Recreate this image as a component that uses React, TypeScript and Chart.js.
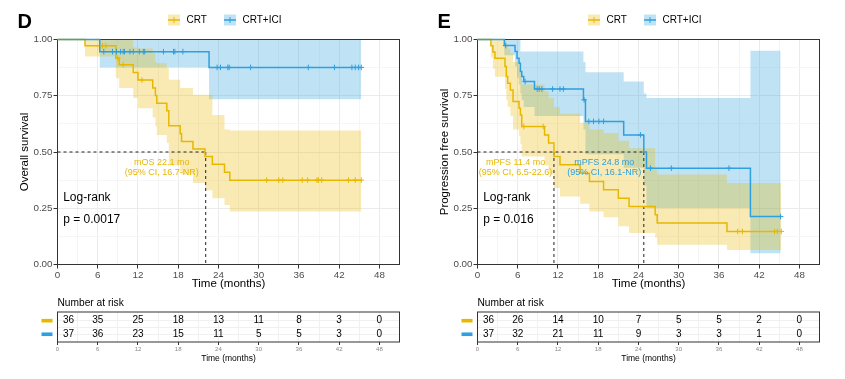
import React, { useEffect, useRef } from 'react';
import { Chart, registerables } from 'chart.js';

Chart.register(...registerables);

const FONT = '"Liberation Sans", Arial, Helvetica, sans-serif';
Chart.defaults.font.family = FONT;

const YELLOW = '#E7B800';
const BLUE = '#2E9FDF';
const YELLOW_FILL = 'rgba(231,184,0,0.3)';
const BLUE_FILL = 'rgba(46,159,223,0.3)';

const groupNames = ['CRT', 'CRT+ICI'];
const xTickLabels = [0, 6, 12, 18, 24, 30, 36, 42, 48];
const yTickLabels = [0, 0.25, 0.5, 0.75, 1];
const riskTimes = [0, 6, 12, 18, 24, 30, 36, 42, 48];

// ---------- Panel D : overall survival ----------
const dCrtTime = [0, 4.1, 8.7, 9.2, 11.3, 12.0, 14.2, 14.6, 14.8, 16.3, 16.6, 18.3, 18.5, 20.2, 22.0, 23.1, 24.9, 25.7, 45.3];
const dCrtSurv = [1, 0.972, 0.917, 0.888, 0.853, 0.82, 0.785, 0.751, 0.717, 0.683, 0.617, 0.581, 0.547, 0.513, 0.48, 0.446, 0.41, 0.375, 0.375];
const dCrtLower = [1, 0.924, 0.828, 0.784, 0.74, 0.695, 0.653, 0.613, 0.576, 0.54, 0.44, 0.415, 0.4, 0.362, 0.33, 0.295, 0.265, 0.236, 0.236];
const dCrtUpper = [1, 1, 1, 1, 0.965, 0.96, 0.94, 0.9, 0.895, 0.873, 0.821, 0.784, 0.784, 0.754, 0.754, 0.665, 0.6, 0.596, 0.596];
const dCrtCensor = [6.7, 7.2, 9.0, 9.8, 12.6, 31.2, 33.0, 33.6, 36.5, 37.3, 38.7, 38.9, 39.4, 43.4, 44.4, 45.3];

const dIciTime = [0, 6.3, 22.6, 45.3];
const dIciSurv = [1, 0.946, 0.876, 0.876];
const dIciLower = [1, 0.876, 0.735, 0.735];
const dIciUpper = [1, 1, 1, 1];
const dIciCensor = [6.9, 8.2, 8.8, 9.4, 9.8, 10.0, 10.8, 11.3, 12.2, 12.8, 13.0, 15.8, 17.3, 17.5, 18.7, 23.8, 24.3, 25.4, 25.6, 28.8, 37.4, 41.3, 43.9, 44.4, 44.9, 45.3];

const dMedians = [22.1];
const dCrtMedianText = ['mOS 22.1 mo', '(95% CI, 16.7-NR)'];
const dPText = 'p = 0.0017';
const dRiskCrt = [36, 35, 25, 18, 13, 11, 8, 3, 0];
const dRiskIci = [37, 36, 23, 15, 11, 5, 5, 3, 0];

// ---------- Panel E : progression free survival ----------
const eCrtTime = [0, 2.0, 2.3, 2.6, 4.1, 4.3, 4.5, 4.9, 5.3, 6.2, 6.4, 6.6, 10.0, 10.6, 11.4, 12.3, 15.3, 16.7, 18.8, 21.0, 22.6, 26.5, 26.8, 37.2, 45.3];
const eCrtSurv = [1, 0.972, 0.944, 0.917, 0.88, 0.836, 0.806, 0.776, 0.724, 0.695, 0.665, 0.613, 0.576, 0.54, 0.48, 0.443, 0.406, 0.369, 0.332, 0.295, 0.258, 0.221, 0.184, 0.147, 0.147];
const eCrtLower = [1, 0.92, 0.87, 0.835, 0.78, 0.73, 0.7, 0.66, 0.6, 0.57, 0.535, 0.48, 0.44, 0.4, 0.34, 0.302, 0.27, 0.236, 0.21, 0.17, 0.14, 0.12, 0.088, 0.065, 0.065];
const eCrtUpper = [1, 1, 1, 1, 1, 0.98, 0.96, 0.94, 0.9, 0.875, 0.85, 0.8, 0.77, 0.74, 0.7, 0.67, 0.63, 0.6, 0.584, 0.55, 0.517, 0.43, 0.4, 0.362, 0.362];
const eCrtCensor = [6.9, 9.8, 38.8, 39.5, 44.3, 44.7, 45.3];

const eIciTime = [0, 4.0, 5.6, 5.9, 6.2, 6.4, 6.6, 6.9, 8.5, 15.8, 16.1, 21.8, 24.8, 25.2, 40.7, 45.2];
const eIciSurv = [1, 0.973, 0.947, 0.917, 0.895, 0.858, 0.836, 0.813, 0.78, 0.732, 0.636, 0.576, 0.5, 0.428, 0.213, 0.213];
const eIciLower = [1, 0.93, 0.88, 0.83, 0.8, 0.76, 0.73, 0.7, 0.66, 0.6, 0.49, 0.43, 0.35, 0.251, 0.05, 0.05];
const eIciUpper = [1, 1, 1, 1, 1, 0.947, 0.947, 0.947, 0.947, 0.9, 0.855, 0.813, 0.76, 0.74, 0.95, 0.95];
const eIciCensor = [4.2, 7.1, 8.9, 9.2, 9.6, 11.2, 12.3, 12.8, 15.9, 16.6, 17.3, 18.1, 18.8, 24.3, 25.8, 28.9, 37.5, 45.2];

const eMedians = [11.4, 24.8];
const eCrtMedianText = ['mPFS 11.4 mo', '(95% CI, 6.5-22.6)'];
const eIciMedianText = ['mPFS 24.8 mo', '(95% CI, 16.1-NR)'];
const ePText = 'p = 0.016';
const eRiskCrt = [36, 26, 14, 10, 7, 5, 5, 2, 0];
const eRiskIci = [37, 32, 21, 11, 9, 3, 3, 1, 0];

// ---------- helpers ----------
type Curve = { time: number[]; surv: number[]; lower: number[]; upper: number[]; censor: number[] };
type Label = { text: string[]; color: string; x: number; y: number[] };
type Panel = {
  letter: string;
  yTitle: string;
  crt: Curve;
  ici: Curve;
  medians: number[];
  labels: Label[];
  pText: string;
  riskCrt: number[];
  riskIci: number[];
};

const panels: Panel[] = [
  {
    letter: 'D',
    yTitle: 'Overall survival',
    crt: { time: dCrtTime, surv: dCrtSurv, lower: dCrtLower, upper: dCrtUpper, censor: dCrtCensor },
    ici: { time: dIciTime, surv: dIciSurv, lower: dIciLower, upper: dIciUpper, censor: dIciCensor },
    medians: dMedians,
    labels: [{ text: dCrtMedianText, color: YELLOW, x: 15.55, y: [0.454, 0.408] }],
    pText: dPText,
    riskCrt: dRiskCrt,
    riskIci: dRiskIci,
  },
  {
    letter: 'E',
    yTitle: 'Progression free survival',
    crt: { time: eCrtTime, surv: eCrtSurv, lower: eCrtLower, upper: eCrtUpper, censor: eCrtCensor },
    ici: { time: eIciTime, surv: eIciSurv, lower: eIciLower, upper: eIciUpper, censor: eIciCensor },
    medians: eMedians,
    labels: [
      { text: eCrtMedianText, color: YELLOW, x: 5.68, y: [0.454, 0.408] },
      { text: eIciMedianText, color: BLUE, x: 18.9, y: [0.454, 0.408] },
    ],
    pText: ePText,
    riskCrt: eRiskCrt,
    riskIci: eRiskIci,
  },
];

const pts = (t: number[], v: number[]) => t.map((x, i) => ({ x, y: v[i] }));
const stepAt = (t: number[], s: number[], time: number) => {
  let v = s[0];
  for (let i = 0; i < t.length; i++) if (t[i] <= time) v = s[i];
  return v;
};
const censorPts = (c: Curve) => c.censor.map((tc) => ({ x: tc, y: stepAt(c.time, c.surv, tc) }));

const X_MAX = 51;
const xGrid = Array.from({ length: 18 }, (_, i) => i * 3);
const yGrid = Array.from({ length: 9 }, (_, i) => i / 8);
const isMajorX = (v: number) => xTickLabels.includes(v);
const isMajorY = (v: number) => yTickLabels.some((t) => Math.abs(t - v) < 1e-9);

function bandSets(c: Curve, fill: string) {
  return [
    {
      data: pts(c.time, c.upper), stepped: 'before', borderWidth: 0, borderColor: 'rgba(0,0,0,0)',
      pointRadius: 0, fill: false, order: 9,
    },
    {
      data: pts(c.time, c.lower), stepped: 'before', borderWidth: 0, borderColor: 'rgba(0,0,0,0)',
      pointRadius: 0, fill: '-1', backgroundColor: fill, order: 9,
    },
  ];
}

function dashedSets(medians: number[]) {
  const maxM = Math.max(...medians);
  const sets: any[] = [
    { data: [{ x: 0, y: 0.5 }, { x: maxM, y: 0.5 }] },
    ...medians.map((m) => ({ data: [{ x: m, y: 0.5 }, { x: m, y: 0 }] })),
  ];
  return sets.map((s) => ({
    ...s, borderColor: '#222', borderWidth: 1, borderDash: [3, 3], pointRadius: 0, fill: false, order: 3,
  }));
}

function mainPlugin(p: Panel) {
  return {
    id: 'kmDecor',
    beforeDatasetsDraw(chart: any) {
      const { ctx, chartArea: a } = chart;
      ctx.save();
      ctx.strokeStyle = '#333333';
      ctx.lineWidth = 1;
      ctx.strokeRect(a.left, a.top, a.right - a.left, a.bottom - a.top);
      ctx.restore();
    },
    afterDraw(chart: any) {
      const { ctx, scales } = chart;
      const x = scales.x;
      const y = scales.y;
      ctx.save();
      // panel letter
      ctx.fillStyle = '#000';
      ctx.font = `bold 20px ${FONT}`;
      ctx.textAlign = 'left';
      ctx.textBaseline = 'alphabetic';
      ctx.fillText(p.letter, 17.5, 27.5);
      // legend
      const items = [
        { name: groupNames[0], color: YELLOW, fill: YELLOW_FILL, x: 168 },
        { name: groupNames[1], color: BLUE, fill: BLUE_FILL, x: 224 },
      ];
      items.forEach((it) => {
        ctx.fillStyle = it.fill;
        ctx.fillRect(it.x, 14.5, 12, 11);
        ctx.strokeStyle = it.color;
        ctx.lineWidth = 1.5;
        ctx.beginPath();
        ctx.moveTo(it.x, 20);
        ctx.lineTo(it.x + 12, 20);
        ctx.stroke();
        ctx.lineWidth = 1;
        ctx.beginPath();
        ctx.moveTo(it.x + 6, 17);
        ctx.lineTo(it.x + 6, 23);
        ctx.stroke();
        ctx.fillStyle = '#000';
        ctx.font = `10px ${FONT}`;
        ctx.textBaseline = 'middle';
        ctx.textAlign = 'left';
        ctx.fillText(it.name, it.x + 18.5, 20);
      });
      // log-rank text
      ctx.fillStyle = '#000';
      ctx.font = `12px ${FONT}`;
      ctx.textAlign = 'left';
      ctx.textBaseline = 'middle';
      ctx.fillText('Log-rank', x.getPixelForValue(0.85), y.getPixelForValue(0.297));
      ctx.fillText(p.pText, x.getPixelForValue(0.85), y.getPixelForValue(0.198));
      // median labels
      ctx.font = `9px ${FONT}`;
      ctx.textAlign = 'center';
      p.labels.forEach((l) => {
        ctx.fillStyle = l.color;
        l.text.forEach((t, i) => ctx.fillText(t, x.getPixelForValue(l.x), y.getPixelForValue(l.y[i])));
      });
      ctx.restore();
    },
  };
}

function mainConfig(p: Panel): any {
  const datasets = [
    ...bandSets(p.crt, YELLOW_FILL),
    ...bandSets(p.ici, BLUE_FILL),
    ...dashedSets(p.medians),
    {
      data: pts(p.crt.time, p.crt.surv), stepped: 'before', borderColor: YELLOW, borderWidth: 1.5,
      pointRadius: 0, fill: false, order: 2, clip: 5,
    },
    {
      data: pts(p.ici.time, p.ici.surv), stepped: 'before', borderColor: BLUE, borderWidth: 1.5,
      pointRadius: 0, fill: false, order: 1, clip: 5,
    },
    {
      data: censorPts(p.crt), showLine: false, pointStyle: 'cross', pointRadius: 2.8,
      pointBorderColor: YELLOW, pointBackgroundColor: YELLOW, pointBorderWidth: 1, order: 0, clip: 5,
    },
    {
      data: censorPts(p.ici), showLine: false, pointStyle: 'cross', pointRadius: 2.8,
      pointBorderColor: BLUE, pointBackgroundColor: BLUE, pointBorderWidth: 1, order: 0, clip: 5,
    },
  ];
  return {
    type: 'line',
    data: { datasets },
    options: {
      responsive: false,
      animation: false,
      events: [],
      layout: { padding: { top: 39.5, right: 20.5, left: 0, bottom: 0 } },
      plugins: { legend: { display: false }, tooltip: { enabled: false } },
      scales: {
        x: {
          type: 'linear', min: 0, max: X_MAX,
          afterBuildTicks: (s: any) => { s.ticks = xGrid.map((v) => ({ value: v })); },
          afterFit: (s: any) => { s.height = 30.5; },
          ticks: {
            autoSkip: false, maxRotation: 0, padding: 1, color: '#4D4D4D', font: { size: 9.8 },
            callback: (v: number) => (isMajorX(v) ? String(v) : ''),
          },
          grid: {
            color: (c: any) => (isMajorX(c.tick.value) ? '#EBEBEB' : '#F5F5F5'),
            tickColor: (c: any) => (isMajorX(c.tick.value) ? '#333333' : 'rgba(0,0,0,0)'),
            tickLength: 4, lineWidth: 1,
          },
          border: { display: false },
          title: { display: true, text: 'Time (months)', color: '#000', font: { size: 11.5 }, padding: { top: 0, bottom: 4 } },
        },
        y: {
          type: 'linear', min: 0, max: 1,
          afterBuildTicks: (s: any) => { s.ticks = yGrid.map((v) => ({ value: v })); },
          afterFit: (s: any) => { s.width = 57.5; },
          ticks: {
            autoSkip: false, padding: 1, color: '#4D4D4D', font: { size: 9.8 },
            callback: (v: number) => (isMajorY(v) ? v.toFixed(2) : ''),
          },
          grid: {
            color: (c: any) => (isMajorY(c.tick.value) ? '#EBEBEB' : '#F5F5F5'),
            tickColor: (c: any) => (isMajorY(c.tick.value) ? '#333333' : 'rgba(0,0,0,0)'),
            tickLength: 4, lineWidth: 1,
          },
          border: { display: false },
          title: { display: true, text: p.yTitle, color: '#000', font: { size: 11.5 }, padding: { top: 18, bottom: 0 } },
        },
      },
    },
    plugins: [mainPlugin(p)],
  };
}

function tablePlugin(p: Panel) {
  return {
    id: 'riskDecor',
    afterDraw(chart: any) {
      const { ctx, chartArea: a, scales } = chart;
      const x = scales.x;
      const y = scales.y;
      ctx.save();
      ctx.strokeStyle = '#333333';
      ctx.lineWidth = 1;
      ctx.strokeRect(a.left, a.top, a.right - a.left, a.bottom - a.top);
      ctx.fillStyle = '#000';
      ctx.font = `10.2px ${FONT}`;
      ctx.textAlign = 'left';
      ctx.textBaseline = 'middle';
      ctx.fillText('Number at risk', a.left, 7.7);
      const rows = [
        { vals: p.riskCrt, color: YELLOW, row: 1 },
        { vals: p.riskIci, color: BLUE, row: 2 },
      ];
      rows.forEach((r) => {
        const py = y.getPixelForValue(r.row);
        ctx.fillStyle = r.color;
        ctx.fillRect(41.5, py - 1.8, 11, 3.6);
        ctx.fillStyle = '#000';
        ctx.font = `10px ${FONT}`;
        r.vals.forEach((v, i) => {
          const px = x.getPixelForValue(riskTimes[i]);
          if (i === 0) {
            ctx.textAlign = 'left';
            ctx.fillText(String(v), px + 5.5, py);
          } else {
            ctx.textAlign = 'center';
            ctx.fillText(String(v), px, py);
          }
        });
      });
      ctx.restore();
    },
  };
}

function tableConfig(p: Panel): any {
  return {
    type: 'line',
    data: { datasets: [] },
    options: {
      responsive: false,
      animation: false,
      events: [],
      layout: { padding: { top: 17, right: 20.5, left: 0, bottom: 0 } },
      plugins: { legend: { display: false }, tooltip: { enabled: false } },
      scales: {
        x: {
          type: 'linear', min: 0, max: X_MAX,
          afterBuildTicks: (s: any) => { s.ticks = xGrid.map((v) => ({ value: v })); },
          afterFit: (s: any) => { s.height = 37; },
          ticks: {
            autoSkip: false, maxRotation: 0, padding: 1, color: '#888888', font: { size: 6 },
            callback: (v: number) => (isMajorX(v) ? String(v) : ''),
          },
          grid: {
            color: '#F0F0F0',
            tickColor: (c: any) => (isMajorX(c.tick.value) ? '#333333' : 'rgba(0,0,0,0)'),
            tickLength: 3, lineWidth: 1,
          },
          border: { display: false },
          title: { display: true, text: 'Time (months)', color: '#000', font: { size: 8.5 }, padding: { top: 0, bottom: 15.6 } },
        },
        y: {
          type: 'linear', min: 0.36, max: 2.57, reverse: true,
          afterBuildTicks: (s: any) => { s.ticks = [1, 1.5, 2].map((v) => ({ value: v })); },
          afterFit: (s: any) => { s.width = 57.5; },
          ticks: { display: false },
          grid: { color: '#F0F0F0', drawTicks: false, lineWidth: 1 },
          border: { display: false },
        },
      },
    },
    plugins: [tablePlugin(p)],
  };
}

function KMPanel({ p, left }: { p: Panel; left: number }) {
  const mainRef = useRef<HTMLCanvasElement>(null);
  const tableRef = useRef<HTMLCanvasElement>(null);
  useEffect(() => {
    const c1 = new Chart(mainRef.current as HTMLCanvasElement, mainConfig(p));
    const c2 = new Chart(tableRef.current as HTMLCanvasElement, tableConfig(p));
    return () => {
      c1.destroy();
      c2.destroy();
    };
  }, [p]);
  return (
    <>
      <canvas
        ref={mainRef}
        width={420}
        height={295}
        style={{ position: 'absolute', left, top: 0, width: 420, height: 295 }}
      />
      <canvas
        ref={tableRef}
        width={420}
        height={84}
        style={{ position: 'absolute', left, top: 295, width: 420, height: 84 }}
      />
    </>
  );
}

export default function App() {
  return (
    <div
      style={{
        position: 'fixed', left: 0, top: 0, width: 845, height: 379,
        background: '#ffffff', overflow: 'hidden',
      }}
    >
      <KMPanel p={panels[0]} left={0} />
      <KMPanel p={panels[1]} left={420} />
    </div>
  );
}
